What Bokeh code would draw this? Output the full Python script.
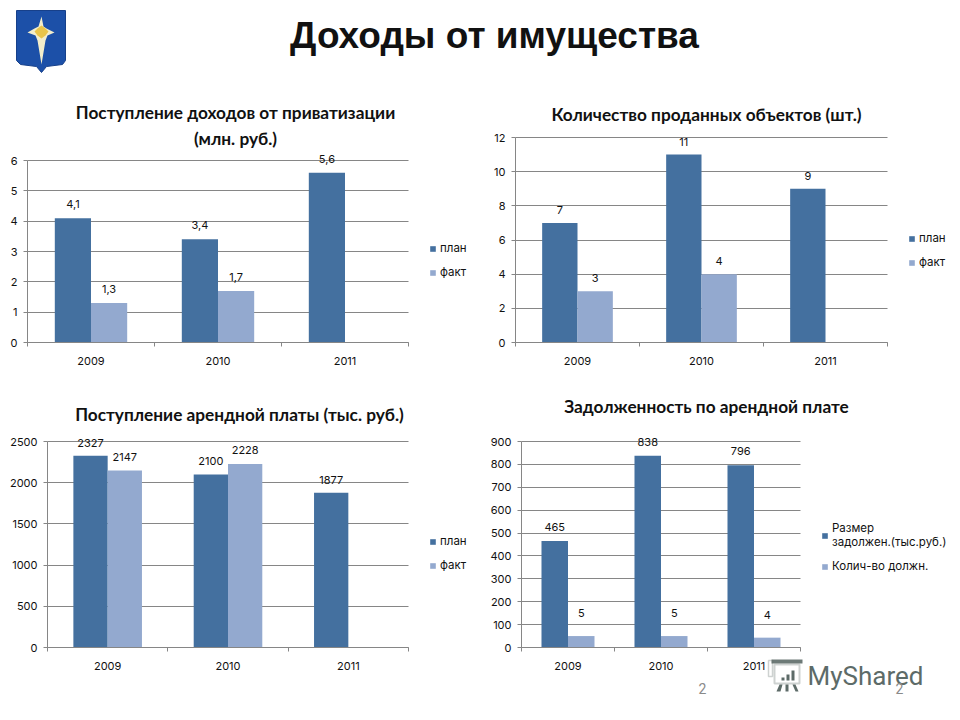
from bokeh.embed import file_html
from bokeh.resources import INLINE
from bokeh.layouts import column, row
from bokeh.models import (BoxAnnotation, ColumnDataSource, FixedTicker, Grid, Label,
                          Legend, LegendItem, LinearAxis, PolyAnnotation, Range1d)
from bokeh.plotting import figure

years = ["2009", "2010", "2011"]

main_title = "Доходы от имущества"

title_a = "Поступление доходов от приватизации\n(млн. руб.)"
plan_a = [4.1, 3.4, 5.6]
fact_a = [1.3, 1.7, None]
plan_labels_a = ["4,1", "3,4", "5,6"]
fact_labels_a = ["1,3", "1,7", ""]
ticks_a = [0, 1, 2, 3, 4, 5, 6]

title_b = "Количество проданных объектов (шт.)"
plan_b = [7, 11, 9]
fact_b = [3, 4, None]
plan_labels_b = ["7", "11", "9"]
fact_labels_b = ["3", "4", ""]
ticks_b = [0, 2, 4, 6, 8, 10, 12]

title_c = "Поступление арендной платы (тыс. руб.)"
plan_c = [2327, 2100, 1877]
fact_c = [2147, 2228, None]
plan_labels_c = ["2327", "2100", "1877"]
fact_labels_c = ["2147", "2228", ""]
ticks_c = [0, 500, 1000, 1500, 2000, 2500]

title_d = "Задолженность по арендной плате"
debt_d = [465, 838, 796]
debtors_d = [50, 50, 43]
debt_labels_d = ["465", "838", "796"]
debtors_labels_d = ["5", "5", "4"]
ticks_d = [0, 100, 200, 300, 400, 500, 600, 700, 800, 900]

names_std = ["план", "факт"]
names_d = ["Размер\nзадолжен.(тыс.руб.)", "Колич-во должн."]

DARK = "#44709f"
LIGHT = "#93a9cf"
GREY = "#868686"
FONT = "Inter"
HEAD = "Lato"
SIZE = "11px"
BAR_W = 0.285


def panel(fx, fy, w, h, left, right, top, bottom, ymax, yticks, s1, s2, l1, l2, names,
          head, head_x, head_y, legend_xy, off1=14, off2=14, head_size="17.25px", line_h=1.2):
    n = len(years)
    ux = (right - left) / n
    uy = (bottom - top) / ymax
    # the frame fills the figure, so that nothing outside the plot area gets clipped
    p = figure(width=w, height=h, output_backend="svg", toolbar_location=None,
               x_range=Range1d(-(left - fx) / ux, (fx + w - left) / ux),
               y_range=Range1d(-(fy + h - bottom) / uy, (bottom - fy) / uy),
               x_axis_type=None, y_axis_type=None,
               min_border_left=0, min_border_right=0, min_border_top=0, min_border_bottom=0)
    p.outline_line_color = None
    p.background_fill_color = None
    p.border_fill_color = None

    mids = [i + 0.5 for i in range(n)]
    xax = LinearAxis(ticker=FixedTicker(ticks=mids, minor_ticks=list(range(n + 1))),
                     major_label_overrides={m: y for m, y in zip(mids, years)},
                     fixed_location=0, bounds=(0, n))
    xax.major_tick_line_color = None
    xax.major_tick_out = 0
    xax.major_tick_in = 0
    xax.minor_tick_line_color = GREY
    xax.minor_tick_out = 4
    xax.minor_tick_in = 0
    xax.axis_line_color = GREY
    xax.major_label_standoff = 10
    xax.major_label_text_font = FONT
    xax.major_label_text_font_size = SIZE
    xax.major_label_text_color = "#111111"
    p.add_layout(xax, "below")

    yax = LinearAxis(ticker=FixedTicker(ticks=yticks), fixed_location=0, bounds=(0, ymax))
    yax.major_tick_line_color = GREY
    yax.major_tick_out = 4
    yax.major_tick_in = 0
    yax.minor_tick_line_color = None
    yax.axis_line_color = GREY
    yax.major_label_standoff = 6
    yax.major_label_text_font = FONT
    yax.major_label_text_font_size = SIZE
    yax.major_label_text_color = "#111111"
    p.add_layout(yax, "left")

    p.add_layout(Grid(dimension=1, ticker=FixedTicker(ticks=yticks), grid_line_color=GREY,
                      cross_bounds=(0, n)))

    items = []
    for vals, labs, color, off, dx, name in ((s1, l1, DARK, off1, -BAR_W / 2, names[0]),
                                             (s2, l2, LIGHT, off2, BAR_W / 2, names[1])):
        xs = [m + dx for m, v in zip(mids, vals) if v is not None]
        ys = [v for v in vals if v is not None]
        ts = [t for t, v in zip(labs, vals) if v is not None]
        src = ColumnDataSource(dict(x=xs, y=ys))
        r = p.vbar(x="x", top="y", width=BAR_W, source=src, fill_color=color, line_color=None)
        items.append(LegendItem(label=name, renderers=[r]))
        for tx, ty, tt in zip(xs, ys, ts):
            p.add_layout(Label(x=tx, y=ty, text=tt, y_offset=off,
                               text_align="center", text_baseline="middle",
                               text_font=FONT, text_font_size=SIZE, text_color="#111111"))

    leg = Legend(items=items, location=(legend_xy[0] - fx, fy + h - legend_xy[1]),
                 background_fill_alpha=0, border_line_color=None,
                 label_text_font=FONT, label_text_font_size="11.5px", label_text_color="#111111",
                 label_text_line_height=line_h,
                 glyph_width=7, glyph_height=7, label_standoff=4, spacing=10,
                 padding=0, margin=0, label_height=12)
    p.add_layout(leg, "center")

    p.add_layout(Label(x=head_x - fx, y=head_y - fy, x_units="canvas", y_units="canvas",
                       text=head, text_align="center", text_baseline="middle",
                       text_font=HEAD, text_font_style="bold", text_font_size=head_size,
                       text_color="#111111"))
    return p


band = figure(width=952, height=100, output_backend="svg", toolbar_location=None,
              x_range=Range1d(0, 952), y_range=Range1d(100, 0),
              x_axis_type=None, y_axis_type=None,
              min_border_left=0, min_border_right=0, min_border_top=0, min_border_bottom=0)
band.outline_line_color = None
band.xgrid.visible = False
band.ygrid.visible = False
band.patch([16, 65, 65, 62, 46, 41, 36, 20, 16, 16],
           [10, 10, 60, 64, 66, 72, 66, 64, 60, 10],
           fill_color="#1c50a8", line_color="#17408a")
band.patch([41, 43, 46, 54, 47, 45, 41, 37, 35, 27, 34, 38],
           [16, 26, 28, 32, 35, 40, 64, 40, 35, 32, 28, 26],
           fill_color="#f3eecb", line_color=None)
band.patch([41, 45, 48, 45, 41, 37, 34, 37],
           [25, 28, 31, 35, 38, 35, 31, 28],
           fill_color="#e9c54a", line_color=None)
band.add_layout(Label(x=494, y=35, text=main_title, text_align="center", text_baseline="middle",
                      text_font="Arial", text_font_style="bold", text_font_size="37px",
                      text_color="#111111"))

a = panel(0, 100, 478, 275, 27, 408, 160, 342, 6, ticks_a, plan_a, fact_a, plan_labels_a,
          fact_labels_a, names_std, title_a, 235, 125, (429, 279))
b = panel(478, 100, 474, 275, 515, 887, 137, 342, 12, ticks_b, plan_b, fact_b, plan_labels_b,
          fact_labels_b, names_std, title_b, 706, 114, (908, 269), off1=13, off2=13)
c = panel(0, 375, 478, 337, 47, 408, 441, 647, 2500, ticks_c, plan_c, fact_c, plan_labels_c,
          fact_labels_c, names_std, title_c, 239, 414, (429, 572), off1=13, off2=14)
d = panel(478, 375, 474, 337, 521, 800, 441, 647, 900, ticks_d, debt_d, debtors_d, debt_labels_d,
          debtors_labels_d, names_d, title_d, 706, 406, (821, 573), off1=14, off2=23, line_h=1.45)

OX, OY = 478, 375
INK = "#5d6b68"
d.add_layout(Label(x=807 - OX, y=675 - OY, x_units="canvas", y_units="canvas", text="MyShared",
                   text_baseline="middle", text_font="Roboto", text_font_size="26px",
                   text_color=INK))
for sx in (702, 899):
    d.add_layout(Label(x=sx - OX, y=688 - OY, x_units="canvas", y_units="canvas", text="2",
                       text_align="center", text_baseline="middle", text_font="Roboto",
                       text_font_size="14px", text_color="#8a8a8a"))


def box(x0, x1, y0, y1, **kw):
    d.add_layout(BoxAnnotation(left=x0 - OX, right=x1 - OX, top=y0 - OY, bottom=y1 - OY,
                               left_units="canvas", right_units="canvas", top_units="canvas",
                               bottom_units="canvas", **kw))


box(774, 799, 664, 683, fill_alpha=0, line_color=INK, line_width=2)
box(771, 802, 659, 663, fill_color=INK, fill_alpha=0.9, line_color=None)
box(768, 772, 660, 676, fill_alpha=0, line_color=INK, line_width=1.5)
for x0, x1, y0 in ((781, 784, 677), (786, 789, 674), (791, 794, 670)):
    box(x0, x1, y0, 680, fill_color=INK, fill_alpha=1, line_color=None)
for xs_ in ([779, 782, 780, 776], [785, 788, 788, 785], [792, 795, 798, 795]):
    d.add_layout(PolyAnnotation(xs=[x - OX for x in xs_], ys=[684 - OY, 684 - OY, 691 - OY, 691 - OY],
                                xs_units="canvas", ys_units="canvas", fill_color=INK, fill_alpha=1,
                                line_color=None))

page = column(band, row(a, b, spacing=0), row(c, d, spacing=0), spacing=0)
open("out.html", "w").write(file_html(page, INLINE))
